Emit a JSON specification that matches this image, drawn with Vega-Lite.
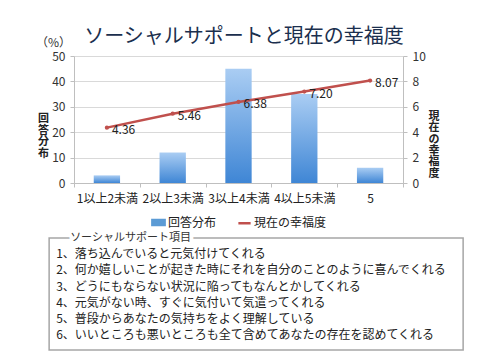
{
  "$schema": "https://vega.github.io/schema/vega-lite/v6.json",
  "background": "white",
  "padding": {"left": 36, "top": 27, "right": 20, "bottom": 2},
  "title": {"text": "ソーシャルサポートと現在の幸福度", "fontSize": 20, "font": "Noto Sans CJK JP", "fontWeight": "normal", "color": "#1b2f4e", "anchor": "middle", "offset": -10, "dx": -6},
  "config": {"font": "Noto Sans CJK JP", "view": {"stroke": null}, "legend": {"layout": {"bottom": {"anchor": "middle", "direction": "horizontal"}}}},
  "columns": 1,
  "center": true,
  "spacing": 1,
  "resolve": {"legend": {"color": "independent"}},
  "concat": [
    {
      "width": 329,
      "height": 127,
      "title": {"text": "（%）", "anchor": "start", "frame": "group", "fontSize": 12, "fontWeight": "normal", "dx": -38, "offset": 0, "color": "#333333"},
      "data": {"values": [
        {"cat": "1以上2未満", "pct": 3, "happy": 4.36, "series": "現在の幸福度"},
        {"cat": "2以上3未満", "pct": 12, "happy": 5.46, "series": "現在の幸福度"},
        {"cat": "3以上4未満", "pct": 45, "happy": 6.38, "series": "現在の幸福度"},
        {"cat": "4以上5未満", "pct": 35, "happy": 7.2, "series": "現在の幸福度"},
        {"cat": "5", "pct": 6, "happy": 8.07, "series": "現在の幸福度"}
      ]},
      "encoding": {
        "x": {"field": "cat", "type": "nominal", "sort": null, "title": null,
          "scale": {"paddingInner": 0, "paddingOuter": 0},
          "axis": {"labelAngle": 0, "labelFontSize": 12, "labelColor": "#222222", "tickBand": "extent", "tickSize": 4, "tickColor": "#bfbfbf", "domainColor": "#bfbfbf", "labelPadding": 6}}
      },
      "layer": [
        {
          "mark": {"type": "bar", "width": {"band": 0.4},
            "color": {"gradient": "linear", "x1": 0, "y1": 0, "x2": 0, "y2": 1,
              "stops": [{"offset": 0, "color": "#aacdf3"}, {"offset": 1, "color": "#3f86d5"}]}},
          "encoding": {
            "y": {"field": "pct", "type": "quantitative", "scale": {"domain": [0, 50]},
              "axis": {"values": [0, 10, 20, 30, 40, 50], "title": ["回", "答", "分", "布"], "titleAngle": 0, "titleFontSize": 11, "titleFontWeight": "bold", "titleLineHeight": 11.5, "titleColor": "#222222", "titleX": -31, "titleY": 62.5, "titleAlign": "center", "titleBaseline": "middle", "labelFontSize": 12, "labelColor": "#333333", "gridColor": "#d9d9d9", "domainColor": "#bfbfbf", "tickColor": "#bfbfbf", "tickSize": 4, "labelPadding": 5}}
          }
        },
        {
          "mark": {"type": "line", "strokeWidth": 2.5, "point": {"filled": true, "size": 18, "color": "#c0504d"}},
          "encoding": {
            "y": {"field": "happy", "type": "quantitative", "scale": {"domain": [0, 10]},
              "axis": {"orient": "right", "values": [0, 2, 4, 6, 8, 10], "grid": false, "title": ["現　", "在　", "の　", "幸　", "福　", "度　"], "titleAngle": 0, "titleFontSize": 11, "titleFontWeight": "bold", "titleLineHeight": 11.3, "titleColor": "#222222", "titleX": 25, "titleY": 60.5, "titleAlign": "left", "titleBaseline": "middle", "labelFontSize": 12, "labelColor": "#333333", "domainColor": "#bfbfbf", "tickColor": "#bfbfbf", "tickSize": 4, "labelPadding": 5}},
            "color": {"field": "series", "type": "nominal",
              "scale": {"domain": ["回答分布", "現在の幸福度"], "range": ["#5b9bd5", "#c0504d"]},
              "legend": {"orient": "bottom", "direction": "horizontal", "title": null, "labelFontSize": 12, "labelColor": "#222222", "symbolSize": 150, "columnPadding": 16, "offset": 11, "labelOffset": 2,
                "encode": {"symbols": {"update": {
                  "shape": {"signal": "datum.value === '回答分布' ? 'M-1,-0.4H1V0.4H-1Z' : 'stroke'"},
                  "fill": {"signal": "datum.value === '回答分布' ? '#5b9bd5' : 'transparent'"},
                  "stroke": {"signal": "datum.value === '回答分布' ? 'transparent' : '#c0504d'"},
                  "strokeWidth": {"value": 2.5}}}}}}
          }
        },
        {
          "mark": {"type": "text", "align": "left", "baseline": "middle", "dx": 5, "dy": 2, "fontSize": 12, "color": "#222222"},
          "encoding": {
            "y": {"field": "happy", "type": "quantitative", "scale": {"domain": [0, 10]}, "axis": null},
            "text": {"field": "happy", "type": "quantitative", "format": ".2f"}
          }
        }
      ],
      "resolve": {"scale": {"y": "independent"}}
    },
    {
      "width": 414,
      "height": 112,
      "view": {"stroke": "#a6a6a6", "strokeWidth": 1.5},
      "data": {"values": [
        {"no": 0, "item": "ソーシャルサポート項目"},
        {"no": 1, "item": "1、落ち込んでいると元気付けてくれる"},
        {"no": 2, "item": "2、何か嬉しいことが起きた時にそれを自分のことのように喜んでくれる"},
        {"no": 3, "item": "3、どうにもならない状況に陥ってもなんとかしてくれる"},
        {"no": 4, "item": "4、元気がない時、すぐに気付いて気遣ってくれる"},
        {"no": 5, "item": "5、普段からあなたの気持ちをよく理解している"},
        {"no": 6, "item": "6、いいところも悪いところも全て含めてあなたの存在を認めてくれる"}
      ]},
      "encoding": {
        "y": {"field": "no", "type": "quantitative", "scale": {"domain": [0, 6.9], "reverse": true}, "axis": null},
        "x": {"datum": 0, "type": "quantitative", "scale": {"domain": [0, 1]}, "axis": null},
        "text": {"field": "item"}
      },
      "layer": [
        {
          "transform": [{"filter": "datum.no == 0"}],
          "mark": {"type": "text", "align": "left", "baseline": "middle", "fontSize": 11, "dx": 21, "fill": "white", "stroke": "white", "strokeWidth": 8, "strokeJoin": "round"}
        },
        {
          "transform": [{"filter": "datum.no == 0"}],
          "mark": {"type": "text", "align": "left", "baseline": "middle", "fontSize": 11, "dx": 21, "color": "#333333"}
        },
        {
          "transform": [{"filter": "datum.no > 0"}],
          "mark": {"type": "text", "align": "left", "baseline": "middle", "fontSize": 12, "color": "#222222", "dx": 7}
        }
      ]
    }
  ]
}
